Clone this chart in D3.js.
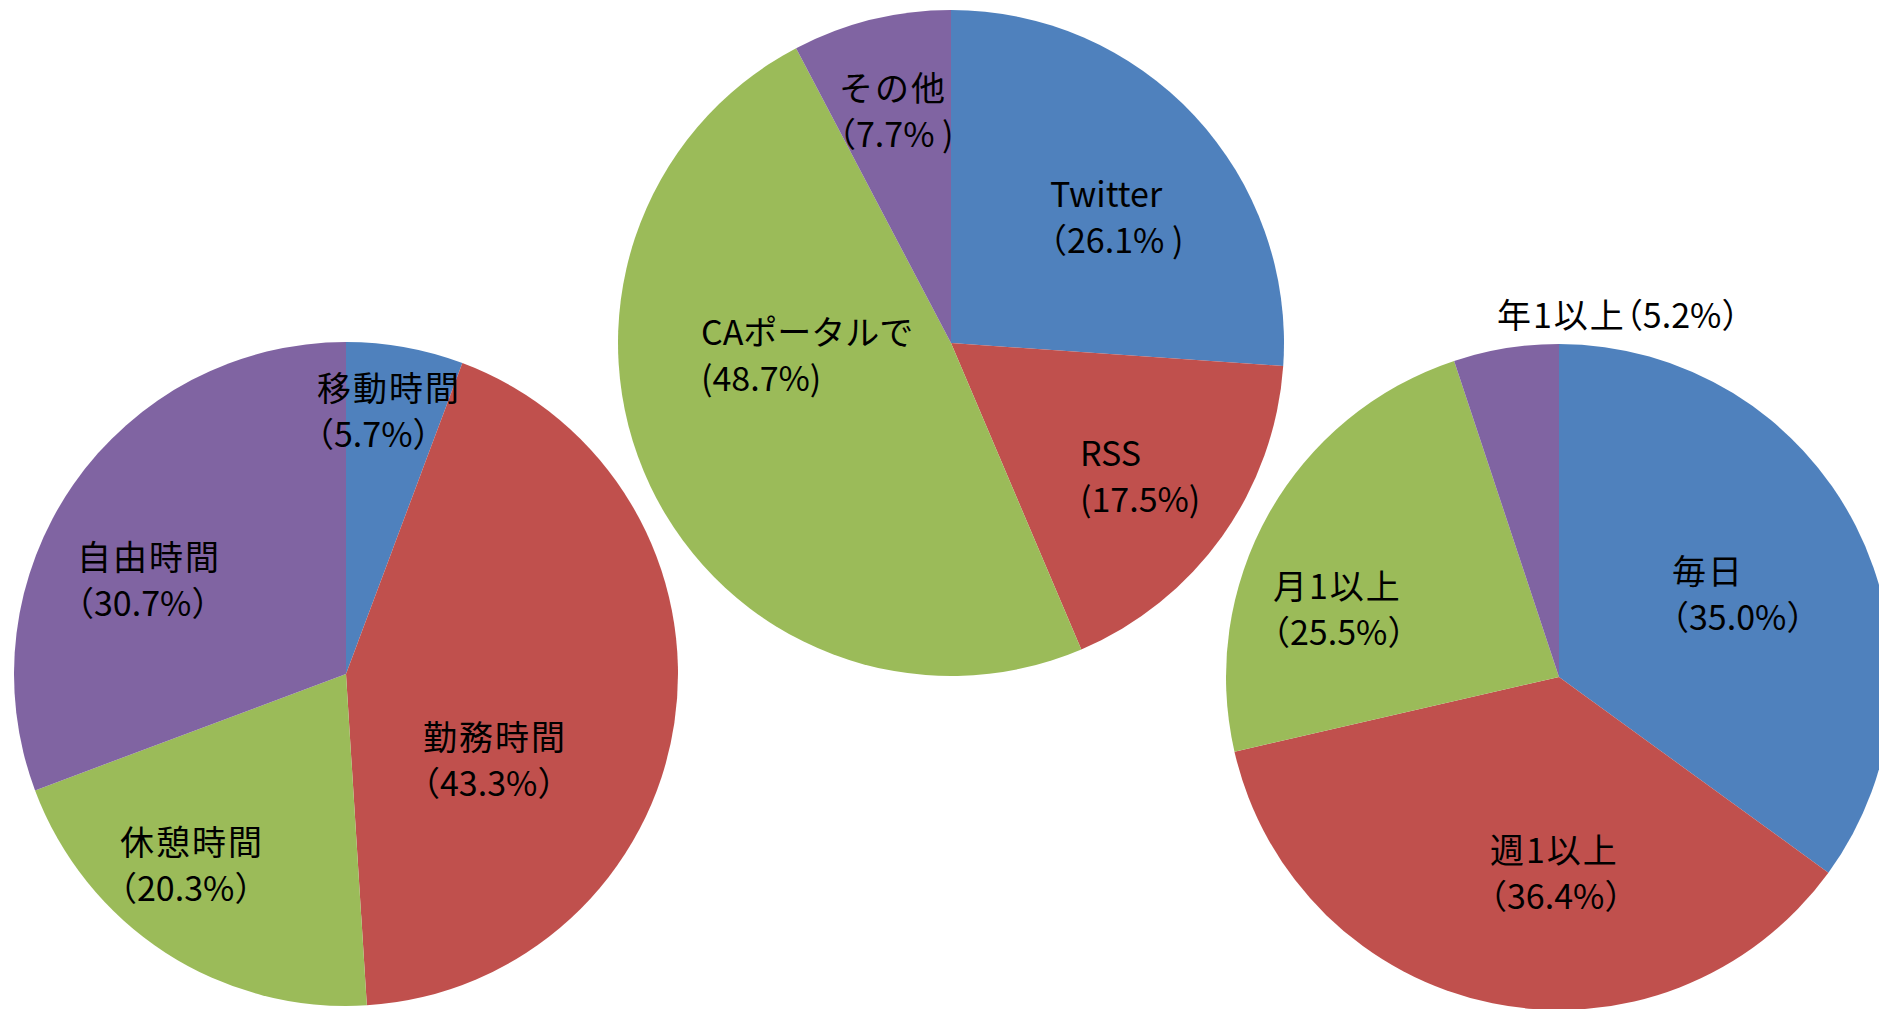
<!DOCTYPE html>
<html>
<head>
<meta charset="utf-8">
<script src="https://d3js.org/d3.v7.min.js"></script>
<style>
  html, body { margin: 0; padding: 0; background: #fff; overflow: hidden; }
  text { font-family: "Noto Sans CJK JP", "Noto Sans", sans-serif; fill: #000; }
</style>
</head>
<body>
<svg id="chart" width="1879" height="1009"></svg>
<script>
// ---- Data ----
const pie1Categories = ["移動時間", "勤務時間", "休憩時間", "自由時間"];
const pie1Values = [5.7, 43.3, 20.3, 30.7];
const pie1Labels = ["（5.7%）", "（43.3%）", "（20.3%）", "（30.7%）"];

const pie2Categories = ["Twitter", "RSS", "CAポータルで", "その他"];
const pie2Values = [26.1, 17.5, 48.7, 7.7];
const pie2Labels = ["（26.1% )", "(17.5%)", "(48.7%)", "（7.7% )"];

const pie3Categories = ["毎日", "週1以上", "月1以上", "年1以上"];
const pie3Values = [35.0, 36.4, 23.5, 5.1];
const pie3Labels = ["（35.0%）", "（36.4%）", "（25.5%）", "（5.2%）"];

const sliceColors = ["#4F81BD", "#C0504D", "#9BBB59", "#8064A2"];

// ---- Layout ----
const FONT = 34, LINE = 46;
const pies = [
  { cats: pie1Categories, vals: pie1Values, labs: pie1Labels, cx: 346, cy: 674, r: 332,
    lab: [[-29, -273], [77, 76], [-226, 181], [-269, -104]] },
  { cats: pie2Categories, vals: pie2Values, labs: pie2Labels, cx: 951, cy: 343, r: 333,
    lab: [[99, -136], [129, 123], [-250, 2], [-112, -242]] },
  { cats: pie3Categories, vals: pie3Values, labs: pie3Labels, cx: 1559, cy: 677, r: 333,
    lab: [[113, -93], [-69, 186], [-286, -78], [-62, -349, true]] }
];

const svg = d3.select("#chart");
const color = d3.scaleOrdinal().domain([0, 1, 2, 3]).range(sliceColors);
const pieGen = d3.pie().sort(null).value(d => d);

pies.forEach(p => {
  const g = svg.append("g").attr("transform", `translate(${p.cx},${p.cy})`);
  const arc = d3.arc().innerRadius(0).outerRadius(p.r);
  g.selectAll("path.slice")
    .data(pieGen(p.vals))
    .join("path")
    .attr("class", "slice")
    .attr("d", arc)
    .attr("fill", (d, i) => color(i));
});

const spacingFor = s => /[A-Za-z]/.test(s) ? "0px" : "2px";
const shiftFor = s => s.startsWith("（") ? -17 : 0;

pies.forEach(p => {
  const g = svg.append("g").attr("transform", `translate(${p.cx},${p.cy})`);
  p.cats.forEach((c, i) => {
    const [lx, ly, oneLine] = p.lab[i];
    if (oneLine) {
      const t1 = g.append("text")
        .attr("x", lx).attr("y", ly)
        .style("font-size", FONT + "px")
        .style("letter-spacing", spacingFor(c))
        .text(c);
      const w = t1.node().getComputedTextLength();
      g.append("text")
        .attr("x", lx + w).attr("y", ly)
        .style("font-size", FONT + "px")
        .style("font-feature-settings", "'halt' 1")
        .text(p.labs[i]);
    } else {
      g.append("text")
        .attr("x", lx).attr("y", ly)
        .style("font-size", FONT + "px")
        .style("letter-spacing", spacingFor(c))
        .text(c);
      g.append("text")
        .attr("x", lx + shiftFor(p.labs[i])).attr("y", ly + LINE)
        .style("font-size", FONT + "px")
        .text(p.labs[i]);
    }
  });
});
</script>
</body>
</html>
